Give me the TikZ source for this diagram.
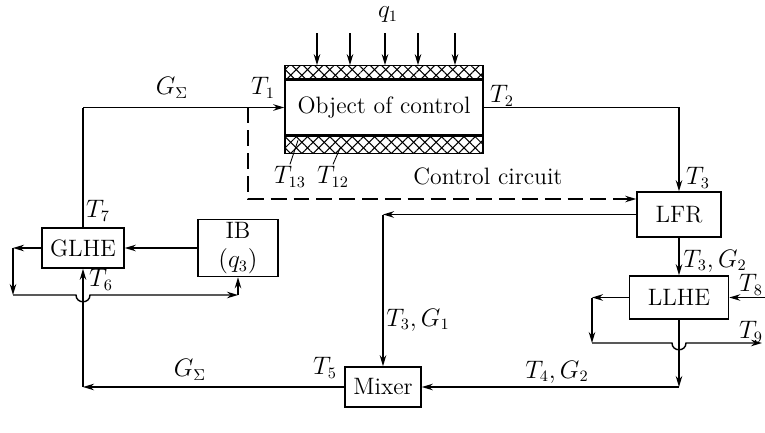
\documentclass[tikz,border=0pt]{standalone}
\usepackage{amsmath}
\usepackage{tikz}
\usetikzlibrary{arrows.meta,patterns.meta}

\begin{document}
\begin{tikzpicture}[x=0.02cm,y=-0.02cm,
    box/.style={draw, line width=0.9pt, inner sep=0pt, font=\fontsize{13.5}{15}\selectfont},
    hatch/.style={draw, line width=0.9pt, inner sep=0pt,
      preaction={pattern={Lines[angle=45,distance=4.5pt,line width=0.6pt]}},
      pattern={Lines[angle=-45,distance=4.5pt,line width=0.6pt]}},
    flow/.style={line width=0.8pt, -{Stealth[length=2.2mm,width=1.3mm]}},
    wire/.style={line width=0.8pt},
    lbl/.style={font=\fontsize{13.5}{15}\selectfont, inner sep=1pt}]
\useasboundingbox (0,0) rectangle (765,433);

% object of control with its heated walls
\node[box, minimum width=3.96cm, minimum height=1.1cm] (obj) at (384,107.5) {Object of control};
\node[hatch, minimum width=3.96cm, minimum height=0.26cm, anchor=south] (wtop) at (obj.north) {};
\node[hatch, minimum width=3.96cm, minimum height=0.34cm, anchor=north] (wbot) at (obj.south) {};
\node[lbl] (q1) at (388,15) {$q_1$};
\foreach \x in {317,350,385,418,455}
  \draw[flow] (\x,33) -- (\x,0 |- wtop.north);

% blocks
\node[box, minimum width=1.68cm, minimum height=0.9cm] (lfr) at (679,214.5) {LFR};
\node[box, minimum width=1.98cm, minimum height=0.86cm] (llhe) at (679,297.5) {LLHE};
\node[box, minimum width=1.52cm, minimum height=0.8cm] (mix) at (383,387) {Mixer};
\node[box, minimum width=1.64cm, minimum height=0.8cm] (glhe) at (83,248) {GLHE};
\node[box, minimum width=1.6cm, minimum height=1.14cm, align=center] (ib) at (238,248) {IB\\[2pt]$(q_3)$};

% corners
\coordinate (top) at (83,107.5);
\coordinate (ctl) at (248,107.5);
\coordinate (ctlb) at (248,199);
\coordinate (rc) at (383,214.5);
\coordinate (bl) at (83,387);
\coordinate (br) at (679,387);
\coordinate (g1) at (13,248);
\coordinate (g2) at (13,295);
\coordinate (g3) at (238,295);
\coordinate (l1) at (592,297.5);
\coordinate (l2) at (592,343);
\coordinate (l3) at (762,343);
\coordinate (l8) at (765,297.5);

% main loop
\draw[wire] (glhe.north) -- (top);
\draw[flow] (top) -- (obj.west);
\draw[flow] (obj.east) -| (lfr.north);
\draw[flow] (lfr.west) -- (rc);
\draw[flow] (rc) -- (mix.north);
\draw[flow] (lfr.south) -- (llhe.north);
\draw[flow] (llhe.south) -- (br);
\draw[flow] (br) -- (mix.east);
\draw[flow] (mix.west) -- (bl);
\draw[flow] (bl) -- (glhe.south);

% control circuit
\draw[flow, dashed, dash pattern=on 9pt off 4pt] (ctl) -- (ctlb) -- (ctlb -| lfr.west);

% gas loop
\draw[flow] (ib.west) -- (glhe.east);
\draw[flow] (glhe.west) -- (g1);
\draw[flow] (g1) -- (g2);
\draw[flow] (g2) -- (76,295) .. controls (76,304) and (90,304) .. (90,295) -- (g3);
\draw[flow] (g3) -- (ib.south);

% liquid loop
\draw[flow] (llhe.west) -- (l1);
\draw[flow] (l1) -- (l2);
\draw[flow] (l2) -- (672,343) .. controls (672,352) and (686,352) .. (686,343) -- (l3);
\draw[flow] (l8) -- (llhe.east);

% labels
\node[lbl] (gs1) at (172,88) {$G_\Sigma$};
\node[lbl] (t1) at (263,88) {$T_1$};
\node[lbl] (t2) at (502,96) {$T_2$};
\node[lbl] (t3) at (698,178) {$T_3$};
\node[lbl] (t13) at (290,177) {$T_{13}$};
\node[lbl] (t12) at (333,177) {$T_{12}$};
\draw[wire, line width=0.5pt] (t13.north) -- ++(8,-24);
\draw[wire, line width=0.5pt] (t12.north) -- ++(7,-16);
\node[lbl] (cc) at (488,176) {Control circuit};
\node[lbl] (t7) at (98,211) {$T_7$};
\node[lbl] (t6) at (101,280) {$T_6$};
\node[lbl] (t3g2) at (715,261) {$T_3,G_2$};
\node[lbl] (t3g1) at (418,320) {$T_3,G_1$};
\node[lbl] (gs2) at (190,370) {$G_\Sigma$};
\node[lbl] (t5) at (325,368) {$T_5$};
\node[lbl] (t4g2) at (557,372) {$T_4,G_2$};
\node[lbl] (t8) at (751,285) {$T_8$};
\node[lbl] (t9) at (751,332) {$T_9$};
\end{tikzpicture}
\end{document}
